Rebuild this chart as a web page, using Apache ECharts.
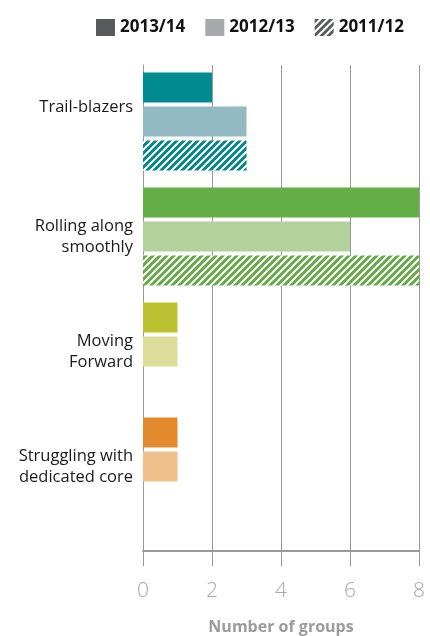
<!DOCTYPE html>
<html><head><meta charset="utf-8">
<script src="https://cdn.jsdelivr.net/npm/echarts@6/dist/echarts.min.js"></script>
<style>html,body{margin:0;padding:0;background:#fff}#c{width:430px;height:636px}</style>
</head><body><div id="c"></div>
<script>
var categories = ['Trail-blazers', 'Rolling along\nsmoothly', 'Moving\nForward', 'Struggling with\ndedicated core'];
var seriesNames = ['2013/14', '2012/13', '2011/12'];
var values2013 = [2, 8, 1, 1];
var values2012 = [3, 6, 1, 1];
var values2011 = [3, 8, null, null];
var xTicks = [0, 2, 4, 6, 8];

var darkColors = ['#008C90', '#63AE45', '#BDC233', '#E38A2C'];
var lightColors = ['#93B9C2', '#B3D29B', '#DCDD99', '#EFBF8C'];

function hatch(color) {
  var P = 7, W = 4;
  var cv = document.createElement('canvas');
  cv.width = P; cv.height = P;
  var ctx = cv.getContext('2d');
  ctx.fillStyle = '#fff';
  ctx.fillRect(0, 0, P, P);
  ctx.fillStyle = color;
  for (var x = 0; x < P; x++) for (var y = 0; y < P; y++) {
    if ((x + y) % P < W) ctx.fillRect(x, y, 1, 1);
  }
  return { image: cv, repeat: 'repeat' };
}

function items(vals, colorFn) {
  return vals.map(function (v, i) {
    return { value: v, itemStyle: { color: colorFn(i) } };
  });
}

var chart = echarts.init(document.getElementById('c'), null, { renderer: 'canvas' });
var gridL = 143, gridR = 11;
chart.setOption({
  animation: false,
  legend: {
    right: 21, top: 14, icon: 'rect',
    itemWidth: 19, itemHeight: 17, itemGap: 20,
    textStyle: { fontFamily: 'Open Sans', fontWeight: 'bold', fontSize: 17, color: '#111' },
    data: seriesNames
  },
  grid: [
    { left: gridL, right: gridR, top: 64, height: 460, containLabel: false, outerBoundsMode: 'none' },
    { left: gridL, right: gridR, top: 65, bottom: 85, containLabel: false, outerBoundsMode: 'none' }
  ],
  xAxis: [
    { gridIndex: 0, type: 'value', min: 0, max: 8, interval: 2, show: false },
    {
      gridIndex: 1, type: 'value', min: 0, max: 8, interval: 2,
      axisLine: { show: true, lineStyle: { color: '#999', width: 2 } },
      axisTick: { show: true, length: 15, lineStyle: { color: '#999', width: 1 } },
      splitLine: { show: true, lineStyle: { color: '#999', width: 1 } },
      axisLabel: { margin: 30, fontFamily: 'Open Sans', fontSize: 21, color: '#a8a8a8', fontWeight: 300,
        formatter: function (v) { return xTicks.indexOf(v) >= 0 ? String(v) : ''; } },
      name: 'Number of groups', nameLocation: 'middle', nameGap: 68,
      nameTextStyle: { fontFamily: 'Open Sans', fontWeight: 'bold', fontSize: 16, color: '#9b9b9b' }
    }
  ],
  yAxis: [
    {
      gridIndex: 0, type: 'category', inverse: true,
      data: categories,
      axisLine: { show: false }, axisTick: { show: false }, splitLine: { show: false },
      axisLabel: {
        margin: 10, fontFamily: 'Open Sans', fontSize: 16.5, color: '#1a1a1a', align: 'right', lineHeight: 21,
        formatter: function (v, i) { return i === 0 ? '{up|' + v + '}' : v; },
        rich: { up: { fontFamily: 'Open Sans', fontSize: 16.5, color: '#1a1a1a', lineHeight: 21, padding: [0, 0, 28, 0] } }
      }
    },
    {
      gridIndex: 1, type: 'value', min: 0, max: 1,
      axisLine: { show: true, lineStyle: { color: '#999', width: 1 } },
      axisTick: { show: false }, axisLabel: { show: false }, splitLine: { show: false }
    }
  ],
  series: [
    { name: seriesNames[0], type: 'bar', xAxisIndex: 0, yAxisIndex: 0, barWidth: 30, barGap: '13%', barCategoryGap: 17,
      itemStyle: { color: '#58595B' }, data: items(values2013, function (i) { return darkColors[i]; }) },
    { name: seriesNames[1], type: 'bar', xAxisIndex: 0, yAxisIndex: 0, barWidth: 30, barGap: '13%',
      itemStyle: { color: '#A7A9AC' }, data: items(values2012, function (i) { return lightColors[i]; }) },
    { name: seriesNames[2], type: 'bar', xAxisIndex: 0, yAxisIndex: 0, barWidth: 30, barGap: '13%',
      itemStyle: { color: hatch('#58595B') }, data: items(values2011, function (i) { return hatch(darkColors[i]); }) }
  ]
});
</script></body></html>
